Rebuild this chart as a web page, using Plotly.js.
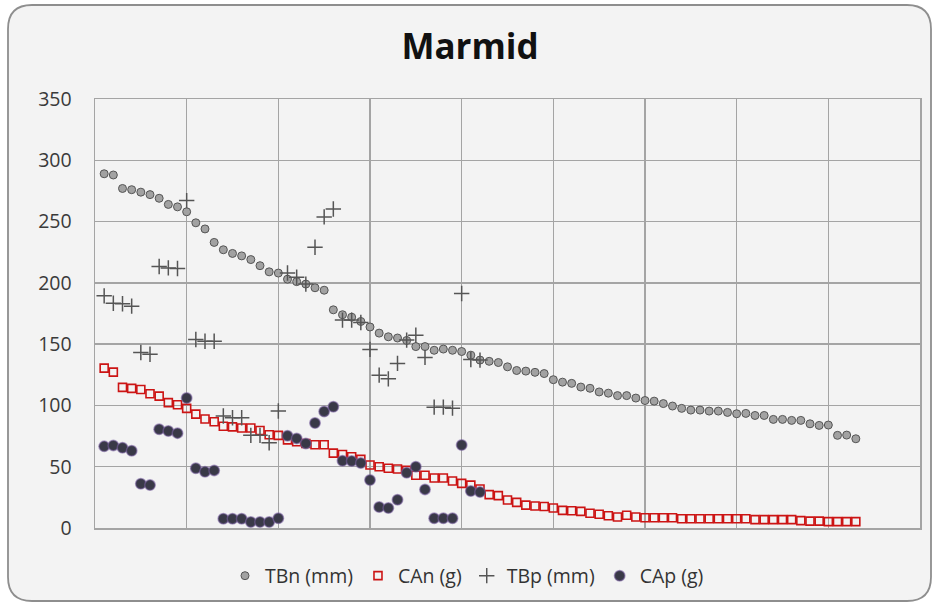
<!DOCTYPE html>
<html>
<head>
<meta charset="utf-8">
<script src="https://cdn.plot.ly/plotly-3.0.1.min.js"></script>
<style>
  html, body { margin: 0; padding: 0; background: #ffffff; }
  #chart { width: 937px; height: 605px; }
</style>
</head>
<body>
<div id="chart"></div>
<script>
// ---- data ----
var chartTitle = "Marmid";
var seriesNames = ["TBn (mm)", "CAn (g)", "TBp (mm)", "CAp (g)"];

var TBn = [289, 288, 277, 276, 274, 272, 269, 264, 262, 258,
           249, 244, 233, 227, 224, 222, 219, 214, 209, 208,
           203, 201, 199, 196, 194, 178, 174, 172, 168.5, 164,
           159, 156, 155, 153, 148, 148, 145, 146, 145, 144,
           141, 137, 136, 135, 131.5, 128.5, 128, 127, 126, 121,
           119, 118, 115, 114, 111, 110, 108, 108, 106, 104,
           103.5, 101.5, 99.5, 97.6, 96.2, 96.2, 95.4, 95.4, 94.3, 93.2,
           93.5, 91.8, 91.8, 88.6, 88.6, 87.8, 87.8, 85, 83.7, 84,
           75.6, 75.8, 72.8];

var CAn = [130.4, 127.2, 114.7, 113.9, 113, 109.5, 107.6, 102.3, 100.5, 97.6,
           92.9, 88.9, 86.7, 83, 82.5, 81.6, 81.6, 79.5, 76.1, 75.6,
           71.9, 70.4, 69, 67.9, 67.9, 61.1, 60, 58.1, 56, 51.4,
           50, 48.7, 48.1, 47, 43, 43, 40.8, 40.8, 38.3, 36.4,
           35, 31.8, 27.2, 26.4, 22.8, 20.9, 18.7, 17.9, 17.6, 16.3,
           14.4, 14.1, 13.6, 12, 11.2, 10, 9, 10.4, 9, 8.4,
           8.4, 8.4, 8.4, 7.6, 7.6, 7.6, 7.6, 7.6, 7.6, 7.6,
           7.6, 6.8, 6.8, 6.8, 6.8, 6.8, 6.0, 5.6, 5.6, 5.2,
           5.2, 5.2, 5.2];

var TBp = [189.4, 183.4, 182.9, 181, 143.2, 141.8, 213.3, 212.2, 211.7, 267.1,
           153.8, 152.4, 152.4, 91.4, 90, 90, 75.6, 75.6, 69.5, 95.4,
           208, 204.6, 199, 229, 253.8, 260.3, 169.6, 169.6, 167.7, 145.7,
           124.7, 121.7, 134.3, 153.3, 157.3, 139.2, 98.6, 98.6, 97.8, 191.3,
           137.5, 137];

var CAp = [66.6, 67.4, 65.5, 63, 36.1, 35, 80.5, 79.1, 77.4, 106,
           48.7, 45.9, 47, 7.6, 7.6, 7.6, 4.9, 4.9, 4.9, 7.9,
           75.2, 73.1, 69, 85.6, 95.1, 98.9, 54.9, 54.6, 53, 39.1,
           17.1, 16.3, 23.1, 45.1, 50, 31.5, 7.9, 7.9, 7.9, 67.7,
           30.2, 29.3];

var yTicks = [0, 50, 100, 150, 200, 250, 300, 350];

// observation numbers (1..n) used as x positions
function obs(arr) { return arr.map(function (v, i) { return i + 1; }); }

var traces = [
  { name: seriesNames[0], x: obs(TBn), y: TBn, type: 'scatter', mode: 'markers',
    marker: { symbol: 'circle', size: 8, color: '#a2a2a2', line: { color: '#555555', width: 1 } } },
  { name: seriesNames[1], x: obs(CAn), y: CAn, type: 'scatter', mode: 'markers',
    marker: { symbol: 'square-open', size: 8, color: '#cc1414', line: { color: '#cc1414', width: 1.6 } } },
  { name: seriesNames[2], x: obs(TBp), y: TBp, type: 'scatter', mode: 'markers',
    marker: { symbol: 'cross-thin-open', size: 11, color: '#555555', line: { color: '#555555', width: 1.5 } } },
  { name: seriesNames[3], x: obs(CAp), y: CAp, type: 'scatter', mode: 'markers',
    marker: { symbol: 'circle', size: 10.5, color: '#393947', line: { color: 'rgba(120,95,160,0.55)', width: 1.5 } } }
];

// geometry helpers (pixel -> paper coordinates)
var W = 937, H = 605, mL = 95, mR = 17, mT = 99, mB = 77;
var pw = W - mL - mR, ph = H - mT - mB;
function px(x) { return (x - mL) / pw; }
function py(y) { return (H - mB - y) / ph; }
function roundRect(l, t, r, b, rad) {
  var rx = rad / pw, ry = rad / ph;
  var L = px(l), R = px(r), T = py(t), B = py(b);
  return 'M' + (L + rx) + ',' + T +
         ' L' + (R - rx) + ',' + T +
         ' Q' + R + ',' + T + ' ' + R + ',' + (T - ry) +
         ' L' + R + ',' + (B + ry) +
         ' Q' + R + ',' + B + ' ' + (R - rx) + ',' + B +
         ' L' + (L + rx) + ',' + B +
         ' Q' + L + ',' + B + ' ' + L + ',' + (B + ry) +
         ' L' + L + ',' + (T - ry) +
         ' Q' + L + ',' + T + ' ' + (L + rx) + ',' + T + ' Z';
}

var layout = {
  width: W, height: H,
  margin: { l: mL, r: mR, t: mT, b: mB, autoexpand: false },
  paper_bgcolor: '#ffffff',
  plot_bgcolor: 'rgba(0,0,0,0)',
  font: { family: 'Open Sans, Lato, sans-serif', color: '#333333' },
  title: { text: '<b>' + chartTitle + '</b>', x: 470 / W, xref: 'container', xanchor: 'center',
           y: 1 - 47 / H, yref: 'container', yanchor: 'middle',
           font: { family: 'Open Sans, sans-serif', size: 35, color: '#111111' } },
  xaxis: { range: [0, 90], dtick: 10, tick0: 0, showticklabels: false, ticks: '',
           showgrid: true, gridcolor: '#a4a4a4', gridwidth: 1.5, zeroline: false,
           showline: true, mirror: true, linecolor: '#a4a4a4', linewidth: 1.5, fixedrange: true },
  yaxis: { range: [0, 350], tickvals: yTicks, ticks: '', ticklabelstandoff: 18,
           tickfont: { size: 19.5, color: '#3a3a3a' },
           showgrid: true, gridcolor: '#a4a4a4', gridwidth: 1.5, zeroline: false,
           showline: true, mirror: true, linecolor: '#a4a4a4', linewidth: 1.5, fixedrange: true },
  showlegend: true,
  legend: { orientation: 'h', x: px(467), xanchor: 'center',
            y: py(576), yanchor: 'middle',
            font: { size: 19.5, color: '#333333' }, bgcolor: 'rgba(0,0,0,0)' },
  shapes: [
    { type: 'path', xref: 'paper', yref: 'paper', layer: 'below',
      path: roundRect(8, 5, 931, 601, 24),
      fillcolor: '#f3f3f3', line: { color: '#8e8e8e', width: 1.8 } }
  ]
};

Plotly.newPlot('chart', traces, layout, { displayModeBar: false, staticPlot: true });
</script>
</body>
</html>
